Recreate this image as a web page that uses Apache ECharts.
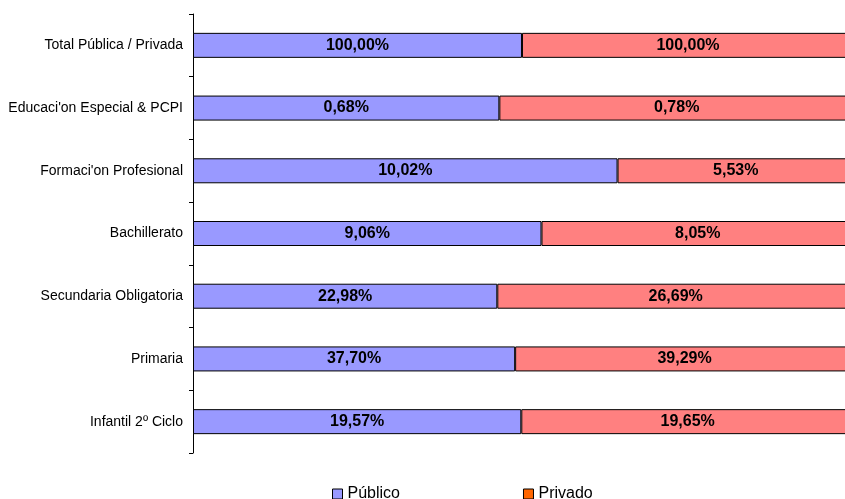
<!DOCTYPE html>
<html>
<head>
<meta charset="utf-8">
<script src="https://cdn.jsdelivr.net/npm/echarts@6/dist/echarts.min.js"></script>
<style>
  html, body { margin: 0; padding: 0; background: #fff; }
  #chart { width: 845px; height: 499px; }
</style>
</head>
<body>
<div id="chart"></div>
<script>
// Education levels, listed top to bottom
const categories = [
  'Total Pública / Privada',
  "Educaci'on Especial & PCPI",
  "Formaci'on Profesional",
  'Bachillerato',
  'Secundaria Obligatoria',
  'Primaria',
  'Infantil 2º Ciclo'
];

// Share of each level within its own sector (% of sector total)
const publicoPct = [100.00, 0.68, 10.02, 9.06, 22.98, 37.70, 19.57];
const privadoPct = [100.00, 0.78, 5.53, 8.05, 26.69, 39.29, 19.65];

// Share of all students enrolled in each sector (%)
const sectorShare = { publico: 49.77, privado: 50.23 };

// Bar length: students of each sector in a level, as % of that level's students
const pubAbs = publicoPct.map(v => v * sectorShare.publico);
const privAbs = privadoPct.map(v => v * sectorShare.privado);
const pubBar = pubAbs.map((v, i) => 100 * v / (v + privAbs[i]));
const privBar = privAbs.map((v, i) => 100 * v / (pubAbs[i] + v));

const fmt = v => v.toFixed(2).replace('.', ',') + '%';
const font = '"Liberation Sans", Arial, sans-serif';

const chart = echarts.init(document.getElementById('chart'));
chart.setOption({
  animation: false,
  backgroundColor: '#ffffff',
  grid: { left: 193, top: 14, width: 661, height: 439, outerBoundsMode: 'none' },
  legend: {
    left: 332,
    top: 486,
    padding: 0,
    itemGap: 123,
    itemWidth: 10,
    itemHeight: 10,
    icon: 'rect',
    textStyle: { fontFamily: font, fontSize: 16, color: '#000', padding: [0, 0, 0, 0] },
    data: [
      { name: 'Público', itemStyle: { color: '#9999FF', borderColor: '#000', borderWidth: 1 } },
      { name: 'Privado', itemStyle: { color: '#FF6600', borderColor: '#000', borderWidth: 1 } }
    ]
  },
  xAxis: {
    type: 'value',
    min: 0,
    max: 100,
    show: false
  },
  yAxis: {
    type: 'category',
    inverse: true,
    data: categories,
    axisLine: { show: true, lineStyle: { color: '#000', width: 1 } },
    axisTick: { show: true, length: 4, lineStyle: { color: '#000' } },
    axisLabel: { fontFamily: font, fontSize: 14, color: '#000', margin: 10 }
  },
  series: [
    {
      name: 'Público',
      type: 'bar',
      stack: 'total',
      barWidth: 25,
      data: pubBar,
      itemStyle: { color: '#9999FF', borderColor: '#000', borderWidth: 1 },
      label: {
        show: true,
        position: 'inside',
        formatter: p => fmt(publicoPct[p.dataIndex]),
        fontFamily: font, fontSize: 16, fontWeight: 'bold', color: '#000'
      }
    },
    {
      name: 'Privado',
      type: 'bar',
      stack: 'total',
      barWidth: 25,
      data: privBar,
      itemStyle: { color: '#FF8080', borderColor: '#000', borderWidth: 1 },
      label: {
        show: true,
        position: 'inside',
        formatter: p => fmt(privadoPct[p.dataIndex]),
        fontFamily: font, fontSize: 16, fontWeight: 'bold', color: '#000'
      }
    }
  ]
});
</script>
</body>
</html>
